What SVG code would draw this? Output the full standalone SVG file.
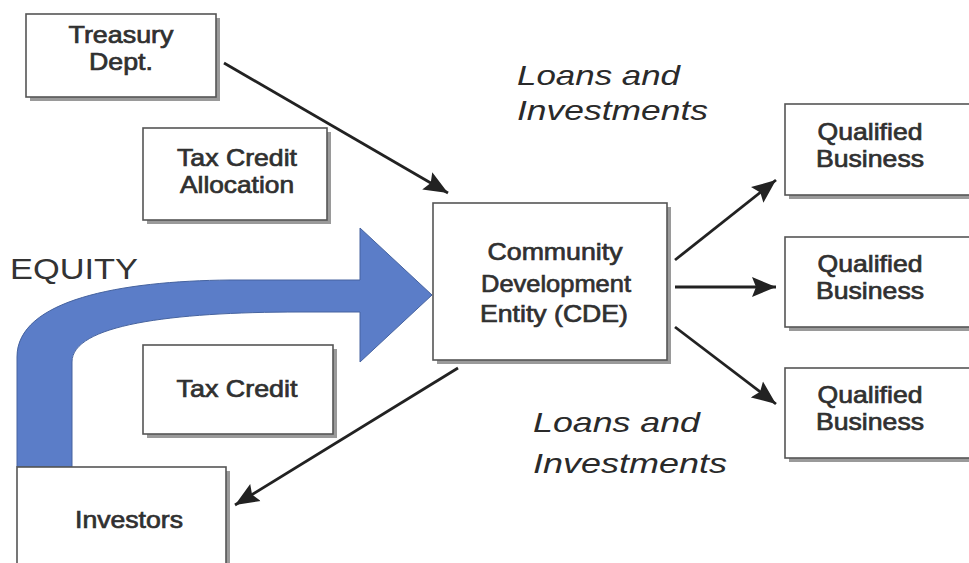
<svg xmlns="http://www.w3.org/2000/svg" width="969" height="563" viewBox="0 0 969 563">
<style>
.box{fill:#fff;stroke:#555;stroke-width:1.6}
.shadow{fill:#9a9a9a}
.lbl{font-family:"Liberation Sans",Arial,sans-serif;font-size:24px;fill:#303030;stroke:#303030;stroke-width:0.7;text-anchor:middle}
.ital{font-family:"Liberation Sans",Arial,sans-serif;font-size:28px;font-style:italic;fill:#2a2a2a}
.conn{stroke:#222;stroke-width:2.8;fill:none;marker-end:url(#ah)}
</style>
<defs>
<marker id="ah" markerUnits="userSpaceOnUse" markerWidth="26" markerHeight="22" viewBox="0 0 26 22" refX="24" refY="11" orient="auto">
<path d="M0,1 L24,11 L0,21 L4,11 Z" fill="#222"/>
</marker>
</defs>
<rect width="969" height="563" fill="#fff"/>
<g id="equity">
<path d="M17,467 L17,357 C17,300 120,281 230,280 L360,280 L360,228 L432,295 L360,362 L360,312 L300,312 C170,312 72,325 72,362 L72,467 Z" fill="#5b7dc8" stroke="#46639f" stroke-width="1"/>
<text x="10" y="279" font-family="'Liberation Sans',Arial,sans-serif" font-size="29" fill="#333" textLength="128" lengthAdjust="spacingAndGlyphs">EQUITY</text>
</g>
<g id="treasury">
<rect class="shadow" x="30" y="18" width="190" height="83"/>
<rect class="box" x="26" y="14" width="190" height="83"/>
<text class="lbl" x="121" y="43" textLength="105" lengthAdjust="spacingAndGlyphs">Treasury</text>
<text class="lbl" x="121" y="70" textLength="64" lengthAdjust="spacingAndGlyphs">Dept.</text>
</g>
<g id="tax-credit-allocation">
<rect class="shadow" x="147" y="132" width="184" height="92"/>
<rect class="box" x="143" y="128" width="184" height="92"/>
<text class="lbl" x="237" y="166" textLength="120" lengthAdjust="spacingAndGlyphs">Tax Credit</text>
<text class="lbl" x="237" y="193" textLength="114" lengthAdjust="spacingAndGlyphs">Allocation</text>
</g>
<g id="cde">
<rect class="shadow" x="437" y="207" width="234" height="157"/>
<rect class="box" x="433" y="203" width="234" height="157"/>
<text class="lbl" x="555" y="260" textLength="135" lengthAdjust="spacingAndGlyphs">Community</text>
<text class="lbl" x="556" y="292" textLength="150" lengthAdjust="spacingAndGlyphs">Development</text>
<text class="lbl" x="554" y="322" textLength="148" lengthAdjust="spacingAndGlyphs">Entity (CDE)</text>
</g>
<g id="qb1">
<rect class="shadow" x="789" y="108" width="190" height="91"/>
<rect class="box" x="785" y="104" width="190" height="91"/>
<text class="lbl" x="870" y="140" textLength="105" lengthAdjust="spacingAndGlyphs">Qualified</text>
<text class="lbl" x="870" y="167" textLength="108" lengthAdjust="spacingAndGlyphs">Business</text>
</g>
<g id="qb2">
<rect class="shadow" x="789" y="241" width="190" height="90"/>
<rect class="box" x="785" y="237" width="190" height="90"/>
<text class="lbl" x="870" y="272" textLength="105" lengthAdjust="spacingAndGlyphs">Qualified</text>
<text class="lbl" x="870" y="299" textLength="108" lengthAdjust="spacingAndGlyphs">Business</text>
</g>
<g id="qb3">
<rect class="shadow" x="789" y="372" width="190" height="90"/>
<rect class="box" x="785" y="368" width="190" height="90"/>
<text class="lbl" x="870" y="403" textLength="105" lengthAdjust="spacingAndGlyphs">Qualified</text>
<text class="lbl" x="870" y="430" textLength="108" lengthAdjust="spacingAndGlyphs">Business</text>
</g>
<g id="tax-credit">
<rect class="shadow" x="147" y="349" width="190" height="89"/>
<rect class="box" x="143" y="345" width="190" height="89"/>
<text class="lbl" x="237" y="397" textLength="121" lengthAdjust="spacingAndGlyphs">Tax Credit</text>
</g>
<g id="investors">
<rect class="shadow" x="21" y="471" width="209" height="110"/>
<rect class="box" x="17" y="467" width="209" height="110"/>
<text class="lbl" x="129" y="528" textLength="108" lengthAdjust="spacingAndGlyphs">Investors</text>
</g>
<g id="labels">
<text class="ital" x="517" y="85" textLength="163" lengthAdjust="spacingAndGlyphs">Loans and</text>
<text class="ital" x="517" y="120" textLength="191" lengthAdjust="spacingAndGlyphs">Investments</text>
<text class="ital" x="533" y="432" textLength="167" lengthAdjust="spacingAndGlyphs">Loans and</text>
<text class="ital" x="533" y="473" textLength="194" lengthAdjust="spacingAndGlyphs">Investments</text>
</g>
<g id="connectors">
<line class="conn" x1="224" y1="63" x2="448" y2="193"/>
<line class="conn" x1="458" y1="368" x2="235" y2="505"/>
<line class="conn" x1="675" y1="260" x2="776" y2="180"/>
<line class="conn" x1="675" y1="287" x2="776" y2="287"/>
<line class="conn" x1="675" y1="327" x2="776" y2="404"/>
</g>
</svg>
